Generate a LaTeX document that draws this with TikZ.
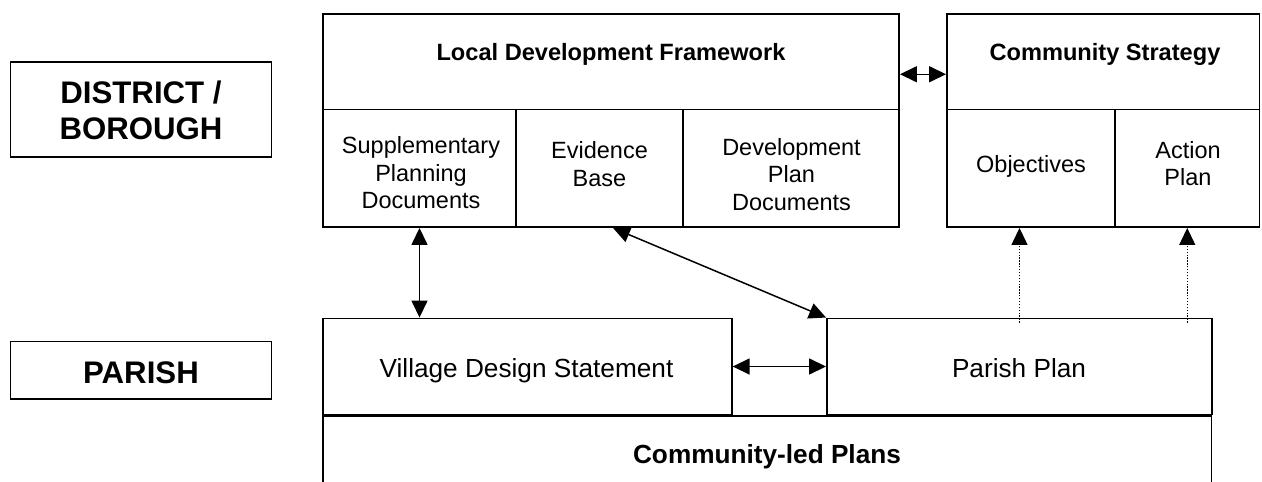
\documentclass[tikz,border=0pt]{standalone}
\usepackage{fontspec}
\setmainfont{Liberation Sans}
\usetikzlibrary{arrows.meta,calc}

\begin{document}
\begin{tikzpicture}[x=1pt,y=-1pt,
  cell/.style={draw,line width=1.9pt,inner sep=0pt,minimum width=#1},
  lvl/.style={font=\fontsize{31.2}{36}\selectfont\bfseries,align=center},
  ttl/.style={font=\fontsize{23.6}{27.5}\selectfont\bfseries,anchor=base},
  sub/.style={font=\fontsize{23.5}{27.5}\selectfont,align=center,anchor=base},
  low/.style={font=\fontsize{26.2}{30}\selectfont,anchor=base},
  lowb/.style={font=\fontsize{26.2}{30}\selectfont\bfseries,anchor=base},
  link/.style={line width=1.5pt,{Triangle[length=17pt,width=16pt]}-{Triangle[length=17pt,width=16pt]}},
  feed/.style={line width=1.3pt,dash pattern=on 1.3pt off 1.6pt,-{Triangle[length=17pt,width=16pt]}}]

\useasboundingbox (0,0) rectangle (1262,482);
\clip (0,0) rectangle (1262,482);

% level labels
\node[cell=261, minimum height=95] (district) at (141,109.5) {};
\node[lvl] (t-district) at (141,110) {DISTRICT /\\BOROUGH};
\node[cell=261, minimum height=57.5] (parish) at (141,370.25) {};
\node[lvl,anchor=base] (t-parish) at (141,383) {PARISH};

% Local Development Framework (multi-line texts are placed by their last baseline)
\node[cell=576, minimum height=95.5] (ldf) at (611,61.75) {};
\node[ttl] (t-ldf) at (611,60) {Local Development Framework};
\node[cell=193, minimum height=117.5] (spd) at (419.5,168.25) {};
\node[cell=167, minimum height=117.5] (eb) at (599.5,168.25) {};
\node[cell=216, minimum height=117.5] (dpd) at (791,168.25) {};
\node[sub] (t-spd) at (421,208.5) {Supplementary\\Planning\\Documents};
\node[sub] (t-eb) at (599.5,186.3) {Evidence\\Base};
\node[sub] (t-dpd) at (791.5,210) {Development\\Plan\\Documents};

% Community Strategy
\node[cell=312.5, minimum height=95.5] (cs) at (1103.25,61.75) {};
\node[ttl] (t-cs) at (1105,60) {Community Strategy};
\node[cell=168, minimum height=117.5] (obj) at (1031,168.25) {};
\node[cell=144.5, minimum height=117.5] (ap) at (1187.25,168.25) {};
\node[sub] (t-obj) at (1031,172) {Objectives};
\node[sub] (t-ap) at (1188,185.5) {Action\\Plan};

% parish level plans
\node[cell=888.8, minimum height=80] (clp) at (767.1,456) {};
\node[lowb] (t-clp) at (767,463.3) {Community-led Plans};
\node[cell=409, minimum height=96] (vds) at (527.2,366.5) {};
\node[low] (t-vds) at (526.5,377.3) {Village Design Statement};
\node[cell=385, minimum height=96] (pp) at (1019.5,366.5) {};
\node[low] (t-pp) at (1019,377.3) {Parish Plan};

% connectors
\draw[link] ($(ldf.east)+(0,12.5)$) -- ($(cs.west)+(0,12.5)$);
\draw[link] (spd.south) -- (spd.south |- vds.north);
\draw[link] ($(eb.south)+(13.5,0)$) -- (pp.north west);
\draw[link] (vds.east) -- (pp.west);
\draw[feed] ($(pp.north)+(0,5)$) -- (pp.north |- obj.south);
\draw[feed] ($(ap.south |- pp.north)+(0,5)$) -- (ap.south);

\end{tikzpicture}
\end{document}
